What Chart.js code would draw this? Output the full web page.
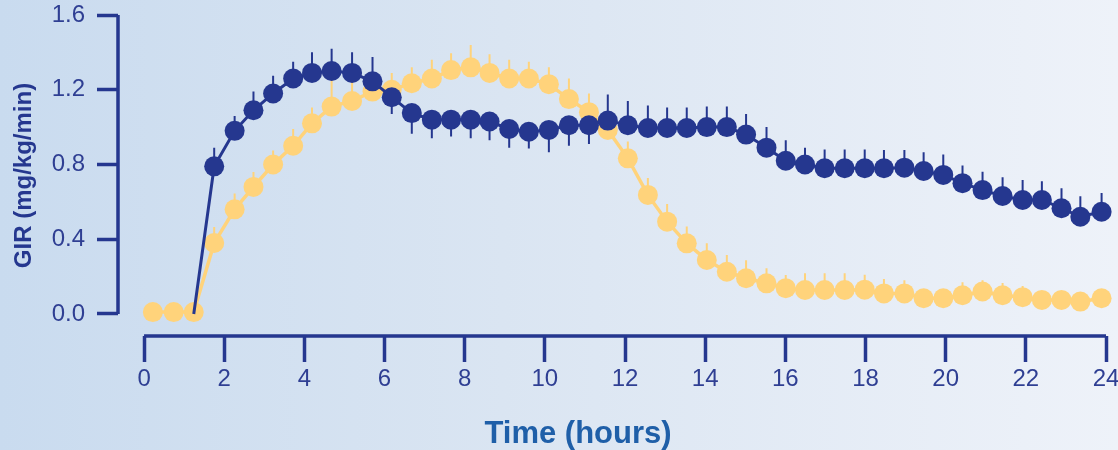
<!DOCTYPE html>
<html>

<head>
    <title>GIR over time</title>
    <script src="https://cdn.jsdelivr.net/npm/chart.js@4.4.1/dist/chart.umd.min.js"></script>

    <style type="text/css">
        html,
        body {
            margin: 0;
            padding: 0;
            overflow: hidden;
        }

        #wrap {
            width: 1118px;
            height: 450px;
            background: linear-gradient(to right, #c9dbef 0%, #dae5f2 45%, #eef2f9 100%);
        }
    </style>
</head>

<body>
    <div id="wrap">
        <canvas id="chartGir"></canvas>
    </div>

    <script>
        // sampling times (hours)
        const hours = [0.22, 0.74, 1.24, 1.75, 2.26, 2.73, 3.22, 3.72, 4.19, 4.68, 5.19, 5.7,
            6.18, 6.68, 7.18, 7.66, 8.15, 8.62, 9.11, 9.6, 10.1, 10.6, 11.1, 11.57,
            12.07, 12.57, 13.05, 13.54, 14.04, 14.54, 15.02, 15.53, 16.01, 16.49, 16.98, 17.48,
            17.98, 18.46, 18.97, 19.45, 19.94, 20.42, 20.92, 21.42, 21.92, 22.4, 22.89, 23.36, 23.89];

        // dark (navy) curve, first two samples hidden under the yellow markers
        const darkGIR = [null, null, 0, 0.79, 0.98, 1.09, 1.18, 1.26, 1.29, 1.30, 1.29, 1.245,
            1.16, 1.075, 1.04, 1.04, 1.04, 1.03, 0.99, 0.975, 0.985, 1.01, 1.01, 1.035,
            1.01, 0.995, 0.995, 0.995, 1.0, 1.0, 0.96, 0.89, 0.82, 0.80, 0.78, 0.78,
            0.78, 0.78, 0.783, 0.765, 0.744, 0.70, 0.663, 0.631, 0.61, 0.61, 0.566, 0.52, 0.547];
        // error bar length, positive = drawn up, negative = drawn down
        const darkErr = [0, 0, 0, 0.10, 0.08, 0.10, 0.095, 0.09, 0.11, 0.12, 0.11, 0.13,
            -0.09, -0.11, -0.10, -0.09, -0.10, -0.10, -0.10, -0.09, -0.12, -0.11, -0.10, 0.14,
            0.13, 0.12, 0.11, 0.11, 0.11, 0.11, 0.11, 0.11, 0.11, 0.09, 0.10, 0.10,
            0.10, 0.098, 0.095, 0.10, 0.11, 0.095, 0.098, 0.10, 0.107, 0.10, 0.107, 0.11, 0.10];

        // yellow curve
        const yellowGIR = [0.01, 0.01, 0.01, 0.38, 0.56, 0.68, 0.80, 0.90, 1.02, 1.11, 1.14, 1.19,
            1.20, 1.235, 1.26, 1.305, 1.32, 1.29, 1.26, 1.26, 1.23, 1.15, 1.08, 0.985,
            0.833, 0.637, 0.494, 0.378, 0.289, 0.226, 0.191, 0.164, 0.138, 0.128, 0.128, 0.128,
            0.13, 0.11, 0.11, 0.084, 0.084, 0.10, 0.12, 0.10, 0.09, 0.075, 0.075, 0.066, 0.084];
        const yellowErr = [0, 0, 0, 0.085, 0.085, 0.08, 0.075, 0.09, 0.085, 0.15, 0.14, 0.10,
            0.09, 0.085, 0.10, 0.09, 0.12, 0.10, 0.10, 0.09, 0.09, 0.11, 0.10, 0.09,
            0.09, 0.09, 0.095, 0.09, 0.09, 0.09, 0.097, 0.08, 0.07, 0.09, 0.09, 0.09,
            0.08, 0.077, 0.07, 0.04, 0.04, 0.07, 0.06, 0.066, 0.06, 0.04, 0.04, 0.04, 0.04];

        const xTicks = [0, 2, 4, 6, 8, 10, 12, 14, 16, 18, 20, 22, 24];
        const yTicks = [0, 0.4, 0.8, 1.2, 1.6];

        const navy = '#25378f';
        const yellow = '#ffd37b';
        const fontFamily = "'Liberation Sans', Arial, sans-serif";

        function toPoints(values) {
            return hours.map((h, i) => ({ x: h, y: values[i] }));
        }

        // one-sided error bars, drawn just before their own dataset
        const errorBars = {
            id: 'errorBars',
            beforeDatasetDraw(chart, args) {
                let ds = chart.data.datasets[args.index];
                if (!ds.errors) return;
                let ctx = chart.ctx;
                let yScale = chart.scales.y;
                ctx.save();
                ctx.strokeStyle = ds.borderColor;
                ctx.lineWidth = 2;
                ctx.beginPath();
                args.meta.data.forEach((el, i) => {
                    let e = ds.errors[i];
                    if (!e || ds.data[i].y === null) return;
                    let y1 = yScale.getPixelForValue(ds.data[i].y + e);
                    ctx.moveTo(el.x, el.y);
                    ctx.lineTo(el.x, y1);
                });
                ctx.stroke();
                ctx.restore();
            }
        };

        // axis lines that only span the tick range (detached axes)
        const axisLines = {
            id: 'axisLines',
            beforeDatasetsDraw(chart) {
                let ctx = chart.ctx;
                let x = chart.scales.x;
                let y = chart.scales.y;
                let area = chart.chartArea;
                ctx.save();
                ctx.strokeStyle = navy;
                ctx.lineWidth = 3.5;
                ctx.beginPath();
                ctx.moveTo(x.getPixelForValue(xTicks[0]), area.bottom);
                ctx.lineTo(x.getPixelForValue(xTicks[xTicks.length - 1]), area.bottom);
                ctx.moveTo(area.left, y.getPixelForValue(yTicks[0]));
                ctx.lineTo(area.left, y.getPixelForValue(yTicks[yTicks.length - 1]));
                ctx.stroke();
                ctx.restore();
            }
        };

        window.onload = function() {
            let ctx = document.getElementById('chartGir').getContext('2d');

            new Chart(ctx, {
                type: 'line',
                data: {
                    datasets: [{
                        label: 'dark',
                        data: toPoints(darkGIR),
                        errors: darkErr,
                        borderColor: navy,
                        backgroundColor: navy,
                        borderWidth: 3,
                        pointBackgroundColor: navy,
                        pointBorderWidth: 0,
                        pointRadius: c => c.dataIndex < 3 ? 0 : 10,
                        tension: 0,
                        spanGaps: false,
                        clip: false
                    }, {
                        label: 'yellow',
                        data: toPoints(yellowGIR),
                        errors: yellowErr,
                        borderColor: yellow,
                        backgroundColor: yellow,
                        borderWidth: 3.5,
                        pointBackgroundColor: yellow,
                        pointBorderWidth: 0,
                        pointRadius: 10,
                        tension: 0,
                        clip: false
                    }]
                },
                options: {
                    responsive: true,
                    maintainAspectRatio: false,
                    animation: false,
                    layout: {
                        padding: { left: 50, right: 12, top: 15, bottom: 0 }
                    },
                    plugins: {
                        legend: { display: false },
                        tooltip: { enabled: false },
                        title: {
                            display: true,
                            text: 'Time (hours)',
                            position: 'bottom',
                            color: '#1f5fa8',
                            font: { family: fontFamily, size: 31, weight: 'bold', lineHeight: 1 },
                            padding: { top: 21, bottom: 0 }
                        }
                    },
                    scales: {
                        x: {
                            type: 'linear',
                            min: -0.65,
                            max: 24,
                            afterBuildTicks: s => { s.ticks = xTicks.map(v => ({ value: v })); },
                            afterFit: s => { s.height = 62; s.paddingLeft = 0; s.paddingRight = 0; },
                            border: { display: false },
                            grid: {
                                drawOnChartArea: false,
                                drawTicks: true,
                                tickLength: 26,
                                tickWidth: 3.5,
                                tickColor: navy
                            },
                            ticks: {
                                autoSkip: false,
                                maxRotation: 0,
                                padding: 3,
                                color: '#2f3f93',
                                font: { family: fontFamily, size: 24 }
                            }
                        },
                        y: {
                            min: -0.118,
                            max: 1.6,
                            afterBuildTicks: s => { s.ticks = yTicks.map(v => ({ value: v })); },
                            afterFit: s => { s.width = 68; s.paddingTop = 0; s.paddingBottom = 0; },
                            border: { display: false },
                            grid: {
                                drawOnChartArea: false,
                                drawTicks: true,
                                tickLength: 21,
                                tickWidth: 3.5,
                                tickColor: navy
                            },
                            ticks: {
                                padding: 12,
                                color: '#2f3f93',
                                font: { family: fontFamily, size: 24 },
                                callback: v => v.toFixed(1)
                            },
                            title: {
                                display: true,
                                text: 'GIR (mg/kg/min)',
                                color: navy,
                                font: { family: fontFamily, size: 24, weight: 'bold' },
                                padding: { top: -40.4, bottom: 0 }
                            }
                        }
                    }
                },
                plugins: [errorBars, axisLines]
            });
        }
    </script>
</body>

</html>
